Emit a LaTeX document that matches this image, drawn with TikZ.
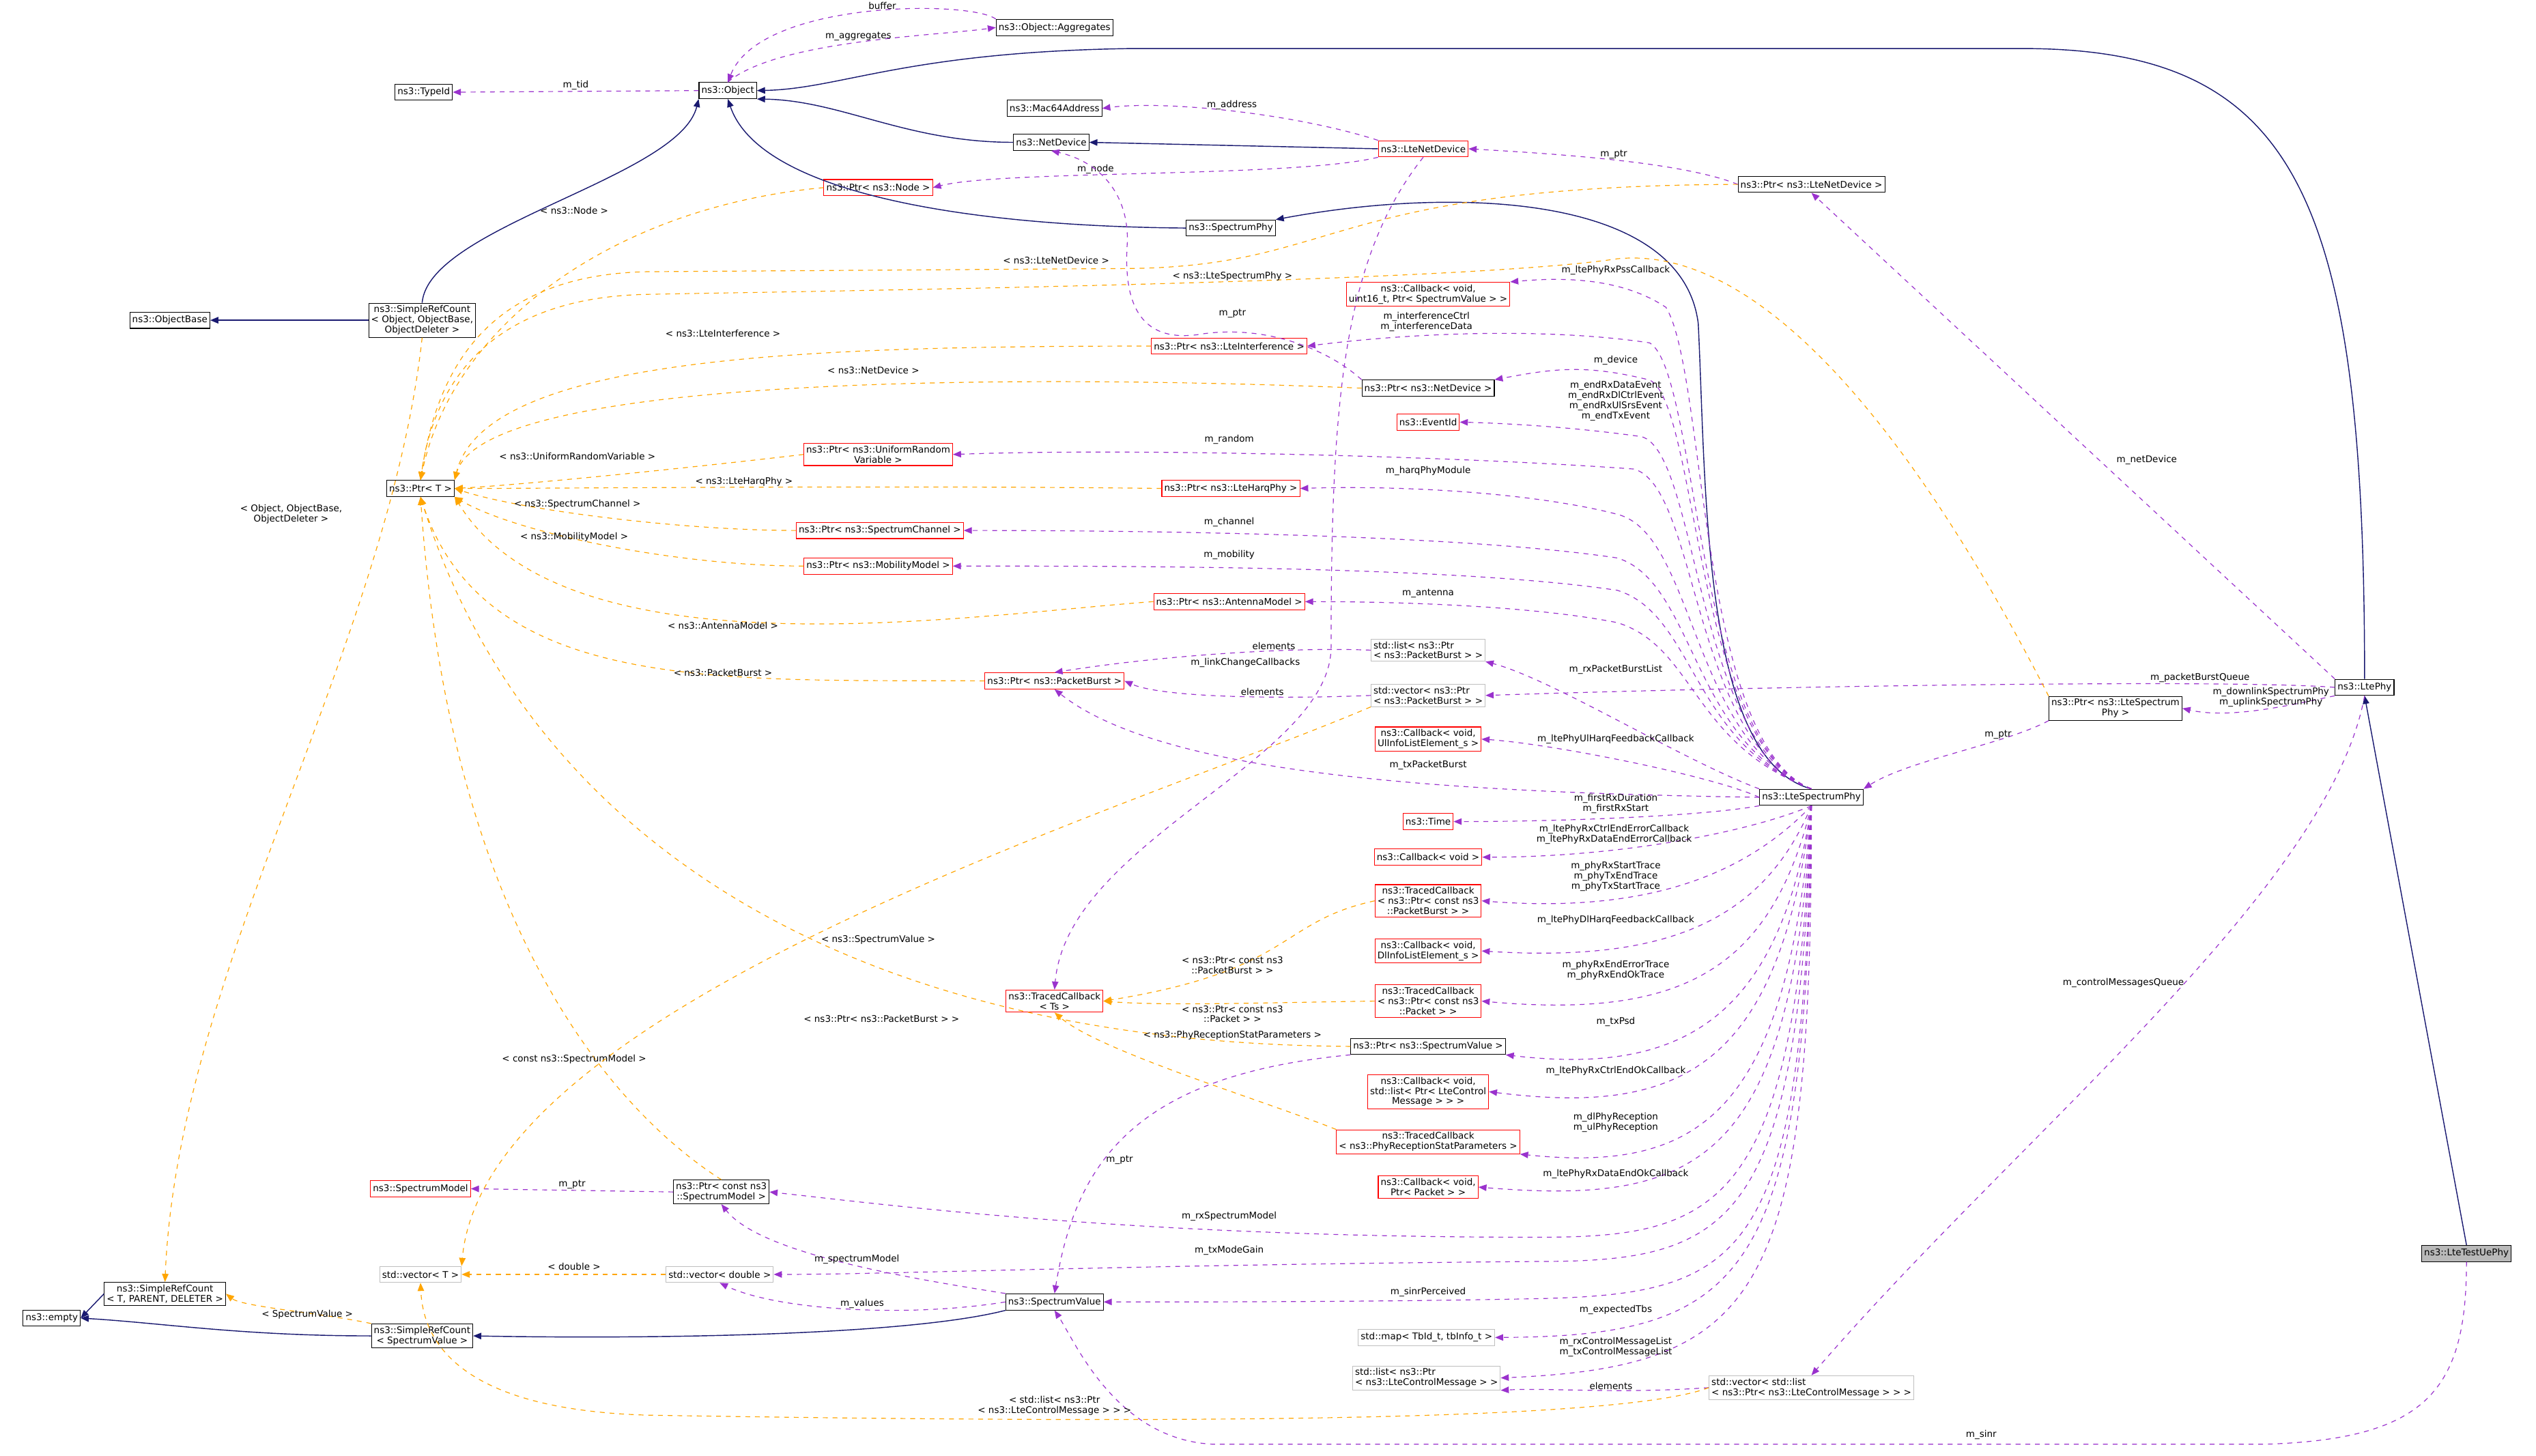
\documentclass[tikz,border=0pt]{standalone}
\usepackage{fontspec}
\setmainfont{DejaVu Sans}
\usetikzlibrary{arrows.meta}
\definecolor{nav}{HTML}{191970}
\definecolor{purp}{HTML}{9A32CD}
\definecolor{orng}{HTML}{FFA500}
\definecolor{gbox}{HTML}{BFBFBF}
\begin{document}
\begin{tikzpicture}[x=1pt,y=-1pt,font=\fontsize{5.7}{6.3}\selectfont,
 cls/.style={draw=black,line width=0.45pt,inner sep=1.5pt,minimum height=10pt,align=center,fill=white},
 rbox/.style={cls,draw=red},
 gb/.style={cls,draw=gbox,align=left},
 inh/.style={draw=nav,line width=0.6pt,-{Triangle[length=5pt,width=4pt]}},
 mem/.style={draw=purp,dashed,line width=0.5pt,-{Triangle[length=5pt,width=4pt]}},
 tpl/.style={draw=orng,dashed,line width=0.5pt,-{Triangle[length=5pt,width=4pt]}},
 lab/.style={inner sep=0.5pt,align=center}]
\useasboundingbox (0,0) rectangle (1568,900);
% nodes
\node[cls,fill=gray!55] (test) at (1525,775) {ns3::LteTestUePhy};
\node[cls] (ltephy) at (1462,425) {ns3::LtePhy};
\node[cls] (lsp) at (1120,493) {ns3::LteSpectrumPhy};
\node[cls] (plsp) at (1308,438) {ns3::Ptr< ns3::LteSpectrum\\Phy >};
\node[cls] (plnd) at (1120,114) {ns3::Ptr< ns3::LteNetDevice >};
\node[rbox] (lnd) at (880,92) {ns3::LteNetDevice};
\node[cls] (nd) at (650,88) {ns3::NetDevice};
\node[cls] (mac) at (652,67) {ns3::Mac64Address};
\node[cls] (obj) at (450,56) {ns3::Object};
\node[cls] (agg) at (652,17) {ns3::Object::Aggregates};
\node[cls] (tid) at (262,57) {ns3::TypeId};
\node[cls] (sro) at (261,198) {ns3::SimpleRefCount\\< Object, ObjectBase,\\ ObjectDeleter >};
\node[cls] (ob) at (105,198) {ns3::ObjectBase};
\node[cls] (sphy) at (761,141) {ns3::SpectrumPhy};
\node[rbox] (pnode) at (543,116) {ns3::Ptr< ns3::Node >};
\node[cls] (pt) at (260,302) {ns3::Ptr< T >};
\node[rbox] (cbpss) at (883,182) {ns3::Callback< void,\\ uint16\_t, Ptr< SpectrumValue > >};
\node[rbox] (pli) at (760,214) {ns3::Ptr< ns3::LteInterference >};
\node[cls] (pnd) at (883,240) {ns3::Ptr< ns3::NetDevice >};
\node[rbox] (ev) at (883,261) {ns3::EventId};
\node[rbox] (purv) at (543,281) {ns3::Ptr< ns3::UniformRandom\\Variable >};
\node[rbox] (pharq) at (761,302) {ns3::Ptr< ns3::LteHarqPhy >};
\node[rbox] (pch) at (544,328) {ns3::Ptr< ns3::SpectrumChannel >};
\node[rbox] (pmob) at (543,350) {ns3::Ptr< ns3::MobilityModel >};
\node[rbox] (pant) at (760,372) {ns3::Ptr< ns3::AntennaModel >};
\node[gb] (lpb) at (883,402) {std::list< ns3::Ptr\\< ns3::PacketBurst > >};
\node[gb] (vpb) at (883,430) {std::vector< ns3::Ptr\\< ns3::PacketBurst > >};
\node[rbox] (ppb) at (652,421) {ns3::Ptr< ns3::PacketBurst >};
\node[rbox] (cbul) at (883,457) {ns3::Callback< void,\\ UlInfoListElement\_s >};
\node[rbox] (time) at (883,508) {ns3::Time};
\node[rbox] (cbv) at (883,530) {ns3::Callback< void >};
\node[rbox] (tcpb) at (883,557) {ns3::TracedCallback\\< ns3::Ptr< const ns3\\::PacketBurst > >};
\node[rbox] (cbdl) at (883,588) {ns3::Callback< void,\\ DlInfoListElement\_s >};
\node[rbox] (tcp) at (883,619) {ns3::TracedCallback\\< ns3::Ptr< const ns3\\::Packet > >};
\node[rbox] (ts) at (652,619) {ns3::TracedCallback\\< Ts >};
\node[cls] (psv) at (883,647) {ns3::Ptr< ns3::SpectrumValue >};
\node[rbox] (cbl) at (883,675) {ns3::Callback< void,\\ std::list< Ptr< LteControl\\Message > > >};
\node[rbox] (tcr) at (883,706) {ns3::TracedCallback\\< ns3::PhyReceptionStatParameters >};
\node[rbox] (cbp) at (883,734) {ns3::Callback< void,\\ Ptr< Packet > >};
\node[rbox] (sm) at (260,735) {ns3::SpectrumModel};
\node[cls] (pcsm) at (446,737) {ns3::Ptr< const ns3\\::SpectrumModel >};
\node[gb] (vt) at (260,788) {std::vector< T >};
\node[gb] (vd) at (445,788) {std::vector< double >};
\node[cls] (sv) at (652,805) {ns3::SpectrumValue};
\node[gb] (map) at (882,827) {std::map< TbId\_t, tbInfo\_t >};
\node[gb] (lcm) at (882,852) {std::list< ns3::Ptr\\< ns3::LteControlMessage > >};
\node[gb] (vl) at (1120,858) {std::vector< std::list\\< ns3::Ptr< ns3::LteControlMessage > > >};
\node[cls] (srt) at (102,800) {ns3::SimpleRefCount\\< T, PARENT, DELETER >};
\node[cls] (srsv) at (261,826) {ns3::SimpleRefCount\\< SpectrumValue >};
\node[cls] (empty) at (32,815) {ns3::empty};
% inheritance
\draw[inh] (test.north) -- (ltephy.south);
\draw[inh] (ltephy.north) .. controls (1462,120) and (1420,30) .. (1250,30) -- (700,30) .. controls (560,32) and (520,55) .. (obj.east);
\draw[inh] (lsp.north) .. controls (1052,470) and (1055,300) .. (1050,200) .. controls (1040,120) and (900,115) .. (sphy.north east);
\draw[inh] (sphy.west) .. controls (600,140) and (470,120) .. (obj.south);
\draw[inh] (nd.west) .. controls (560,88) and (520,62) .. (obj.south east);
\draw[inh] (lnd.west) -- (nd.east);
\draw[inh] (sro.north) .. controls (265,140) and (420,110) .. (obj.south west);
\draw[inh] (sro.west) -- (ob.east);
\draw[inh] (srt.west) -- (empty.east);
\draw[inh] (srsv.west) .. controls (150,826) and (100,818) .. (empty.east);
\draw[inh] (sv.south west) .. controls (560,826) and (400,828) .. (srsv.east);
% object members
\draw[mem] (obj.west) -- node[lab,above]{m\_tid} (tid.east);
\draw[mem] (obj.north) .. controls (480,25) and (580,22) .. node[lab,above]{m\_aggregates} (agg.west);
\draw[mem] (agg.north west) .. controls (600,0) and (470,0) .. node[lab,above,pos=0.45]{buffer} (obj.north);
\draw[mem] (lnd.north west) .. controls (800,70) and (720,62) .. node[lab,above]{m\_address} (mac.east);
\draw[mem] (lnd.south west) .. controls (800,110) and (620,105) .. node[lab,above,pos=0.6]{m\_node} (pnode.east);
\draw[mem] (lnd.south) .. controls (830,160) and (823,250) .. (823,400) .. controls (823,470) and (660,520) .. (ts.north);
\node[lab] (Llink) at (770,410) {m\_linkChangeCallbacks};
\draw[mem] (pnd.north west) .. controls (820,215) and (780,200) .. (740,207) .. controls (700,212) and (695,180) .. (697,150) .. controls (698,120) and (680,100) .. (nd.south);
\node[lab] (Lptrnd) at (762,194) {m\_ptr};
\draw[mem] (plnd.west) .. controls (1040,100) and (960,95) .. node[lab,above]{m\_ptr} (lnd.east);
% LtePhy members
\draw[mem] (ltephy.north west) -- node[lab,pos=0.45,right=10pt]{m\_netDevice} (plnd.south);
\draw[mem] (ltephy.west) .. controls (1380,420) and (1100,424) .. node[lab,above,pos=0.25]{m\_packetBurstQueue} (vpb.east);
\draw[mem] (ltephy.south west) .. controls (1420,435) and (1380,445) .. node[lab,above,pos=0.45]{m\_downlinkSpectrumPhy\\m\_uplinkSpectrumPhy} (plsp.east);
\draw[mem] (ltephy.south) .. controls (1440,550) and (1250,700) .. node[lab,pos=0.45,left]{m\_controlMessagesQueue} (vl.north);
\draw[mem] (plsp.south west) .. controls (1240,460) and (1180,470) .. node[lab,above,pos=0.3]{m\_ptr} (lsp.north east);
\draw[mem] (test.south) .. controls (1525,860) and (1500,890) .. (1400,893) -- (750,893) .. controls (690,890) and (665,830) .. (sv.south);
\node[lab] (Lsinr) at (1225,887) {m\_sinr};
% LteSpectrumPhy members (upper)
\draw[mem] (lsp.north) .. controls (1050,460) and (1055,230) .. (1030,190) .. controls (1000,170) and (960,172) .. (cbpss.north east);
\node[lab] (L1) at (999,167) {m\_ltePhyRxPssCallback};
\draw[mem] (lsp.north) .. controls (1048,460) and (1050,230) .. (1020,212) .. controls (960,203) and (880,205) .. (pli.east);
\node[lab] (L2) at (882,199) {m\_interferenceCtrl\\m\_interferenceData};
\draw[mem] (lsp.north) .. controls (1048,460) and (1050,250) .. (1020,235) .. controls (980,225) and (960,228) .. (pnd.north east);
\node[lab] (L3) at (999,223) {m\_device};
\draw[mem] (lsp.north) .. controls (1048,460) and (1050,280) .. (1015,270) .. controls (980,265) and (940,262) .. (ev.east);
\node[lab] (L4) at (999,248) {m\_endRxDataEvent\\m\_endRxDlCtrlEvent\\m\_endRxUlSrsEvent\\m\_endTxEvent};
\draw[mem] (lsp.north) .. controls (1046,460) and (1050,300) .. (1010,290) .. controls (900,282) and (700,277) .. (purv.east);
\node[lab] (L5) at (760,272) {m\_random};
\draw[mem] (lsp.north) .. controls (1046,460) and (1048,330) .. (1000,318) .. controls (950,305) and (870,300) .. (pharq.east);
\node[lab] (L6) at (883,291) {m\_harqPhyModule};
\draw[mem] (lsp.north) .. controls (1046,460) and (1048,360) .. (1000,345) .. controls (900,330) and (700,328) .. (pch.east);
\node[lab] (L7) at (760,323) {m\_channel};
\draw[mem] (lsp.north) .. controls (1046,460) and (1048,380) .. (1000,365) .. controls (900,350) and (700,350) .. (pmob.east);
\node[lab] (L8) at (760,343) {m\_mobility};
\draw[mem] (lsp.north) .. controls (1046,460) and (1048,400) .. (1000,385) .. controls (950,375) and (870,372) .. (pant.east);
\node[lab] (L9) at (883,367) {m\_antenna};
\draw[mem] (lsp.north west) .. controls (1040,470) and (960,420) .. (lpb.south east);
\node[lab] (L10) at (999,414) {m\_rxPacketBurstList};
\draw[mem] (lsp.west) .. controls (1060,480) and (960,460) .. (cbul.east);
\node[lab] (L11) at (999,457) {m\_ltePhyUlHarqFeedbackCallback};
\draw[mem] (lsp.west) .. controls (900,490) and (720,480) .. (ppb.south);
\node[lab] (L12) at (883,473) {m\_txPacketBurst};
\draw[mem] (lpb.west) .. controls (800,400) and (720,405) .. node[lab,above,pos=0.35]{elements} (ppb.north);
\draw[mem] (vpb.west) .. controls (800,432) and (720,432) .. node[lab,above,pos=0.4]{elements} (ppb.east);
% LteSpectrumPhy members (lower)
\draw[mem] (lsp.south west) .. controls (1050,505) and (960,508) .. (time.east);
\node[lab] (L13) at (999,497) {m\_firstRxDuration\\m\_firstRxStart};
\draw[mem] (lsp.south) .. controls (1080,515) and (1000,530) .. (cbv.east);
\node[lab] (L14) at (998,516) {m\_ltePhyRxCtrlEndErrorCallback\\m\_ltePhyRxDataEndErrorCallback};
\draw[mem] (lsp.south) .. controls (1080,540) and (1020,565) .. (tcpb.east);
\node[lab] (L15) at (999,542) {m\_phyRxStartTrace\\m\_phyTxEndTrace\\m\_phyTxStartTrace};
\draw[mem] (lsp.south) .. controls (1090,570) and (1030,595) .. (cbdl.east);
\node[lab] (L16) at (999,569) {m\_ltePhyDlHarqFeedbackCallback};
\draw[mem] (lsp.south) .. controls (1095,600) and (1040,630) .. (tcp.east);
\node[lab] (L17) at (999,600) {m\_phyRxEndErrorTrace\\m\_phyRxEndOkTrace};
\draw[mem] (lsp.south) .. controls (1100,630) and (1040,665) .. (psv.south east);
\node[lab] (L18) at (999,632) {m\_txPsd};
\draw[mem] (lsp.south) .. controls (1100,660) and (1040,690) .. (cbl.east);
\node[lab] (L19) at (999,662) {m\_ltePhyRxCtrlEndOkCallback};
\draw[mem] (lsp.south) .. controls (1105,690) and (1050,725) .. (tcr.south east);
\node[lab] (L20) at (999,694) {m\_dlPhyReception\\m\_ulPhyReception};
\draw[mem] (lsp.south) .. controls (1108,720) and (1050,745) .. (cbp.east);
\node[lab] (L21) at (999,726) {m\_ltePhyRxDataEndOkCallback};
\draw[mem] (lsp.south) .. controls (1110,750) and (1060,765) .. (950,765) .. controls (700,765) and (550,745) .. (pcsm.east);
\node[lab] (L22) at (760,752) {m\_rxSpectrumModel};
\draw[mem] (lsp.south) .. controls (1112,760) and (1070,780) .. (950,780) .. controls (700,782) and (550,788) .. (vd.east);
\node[lab] (L23) at (760,773) {m\_txModeGain};
\draw[mem] (lsp.south) .. controls (1115,780) and (1080,800) .. (950,803) .. controls (850,805) and (750,805) .. (sv.east);
\node[lab] (L24) at (883,799) {m\_sinrPerceived};
\draw[mem] (lsp.south) .. controls (1117,790) and (1080,826) .. (map.east);
\node[lab] (L25) at (999,810) {m\_expectedTbs};
\draw[mem] (lsp.south) .. controls (1120,800) and (1090,845) .. (lcm.east);
\node[lab] (L26) at (999,833) {m\_rxControlMessageList\\m\_txControlMessageList};
\draw[mem] (vl.west) .. controls (1000,862) and (960,858) .. node[lab,above,pos=0.4]{elements} (lcm.south east);
% other members
\draw[mem] (psv.south west) .. controls (700,665) and (665,720) .. node[lab,right,pos=0.6]{m\_ptr} (sv.north);
\draw[mem] (pcsm.west) -- node[lab,above]{m\_ptr} (sm.east);
\draw[mem] (sv.north west) .. controls (560,790) and (470,775) .. node[lab,above,pos=0.45]{m\_spectrumModel} (pcsm.south);
\draw[mem] (sv.west) .. controls (560,815) and (480,810) .. node[lab,above,pos=0.45]{m\_values} (vd.south);
% templates
\draw[tpl] (pnode.west) .. controls (380,128) and (280,200) .. (pt.north);
\node[lab] (T1) at (355,130) {< ns3::Node >};
\draw[tpl] (plnd.west) .. controls (820,115) and (830,164) .. (700,166) -- (400,168) .. controls (300,170) and (270,230) .. (pt.north);
\node[lab] (T2) at (653,161) {< ns3::LteNetDevice >};
\draw[tpl] (plsp.north west) .. controls (1200,300) and (1100,150) .. (1000,160) .. controls (900,175) and (500,180) .. (400,182) .. controls (300,184) and (268,240) .. (pt.north);
\node[lab] (T3) at (762,171) {< ns3::LteSpectrumPhy >};
\draw[tpl] (pli.west) .. controls (500,214) and (300,220) .. (pt.north east);
\node[lab] (T4) at (447,206) {< ns3::LteInterference >};
\draw[tpl] (pnd.west) .. controls (650,232) and (300,230) .. (pt.north east);
\node[lab] (T5) at (540,229) {< ns3::NetDevice >};
\draw[tpl] (purv.west) .. controls (420,290) and (320,300) .. (pt.east);
\node[lab] (T6) at (357,282) {< ns3::UniformRandomVariable >};
\draw[tpl] (pharq.west) .. controls (550,300) and (350,302) .. (pt.east);
\node[lab] (T7) at (460,298) {< ns3::LteHarqPhy >};
\draw[tpl] (pch.west) .. controls (420,328) and (320,315) .. (pt.east);
\node[lab] (T8) at (357,312) {< ns3::SpectrumChannel >};
\draw[tpl] (pmob.west) .. controls (420,350) and (320,330) .. (pt.south east);
\node[lab] (T9) at (355,332) {< ns3::MobilityModel >};
\draw[tpl] (pant.west) .. controls (600,380) and (350,420) .. (pt.south east);
\node[lab] (T10) at (447,387) {< ns3::AntennaModel >};
\draw[tpl] (ppb.west) .. controls (450,420) and (300,430) .. (pt.south);
\node[lab] (T11) at (447,416) {< ns3::PacketBurst >};
\draw[tpl] (psv.west) .. controls (500,645) and (320,500) .. (pt.south);
\node[lab] (T12) at (543,581) {< ns3::SpectrumValue >};
\draw[tpl] (pcsm.north) .. controls (400,700) and (280,600) .. (pt.south);
\node[lab] (T13) at (355,655) {< const ns3::SpectrumModel >};
\draw[tpl] (vpb.south west) .. controls (700,500) and (300,620) .. (vt.north east);
\node[lab] (T14) at (545,630) {< ns3::Ptr< ns3::PacketBurst > >};
\draw[tpl] (vd.west) -- (vt.east);
\node[lab] (T15) at (355,783) {< double >};
\draw[tpl] (vl.west) .. controls (1000,880) and (700,880) .. (400,875) .. controls (300,872) and (262,840) .. (vt.south);
\node[lab] (T16) at (652,869) {< std::list< ns3::Ptr\\< ns3::LteControlMessage > > >};
\draw[tpl] (sro.south) .. controls (240,400) and (110,600) .. (srt.north);
\node[lab] (T17) at (180,318) {< Object, ObjectBase,\\ObjectDeleter >};
\draw[tpl] (srsv.north west) .. controls (200,812) and (150,808) .. (srt.east);
\node[lab] (T18) at (190,813) {< SpectrumValue >};
\draw[tpl] (tcpb.west) .. controls (790,570) and (800,600) .. (ts.east);
\node[lab] (T19) at (762,597) {< ns3::Ptr< const ns3\\::PacketBurst > >};
\draw[tpl] (tcp.west) .. controls (780,620) and (720,622) .. (ts.east);
\node[lab] (T20) at (762,627) {< ns3::Ptr< const ns3\\::Packet > >};
\draw[tpl] (tcr.north west) .. controls (780,680) and (680,650) .. (ts.south);
\node[lab] (T21) at (762,640) {< ns3::PhyReceptionStatParameters >};
\end{tikzpicture}
\end{document}
